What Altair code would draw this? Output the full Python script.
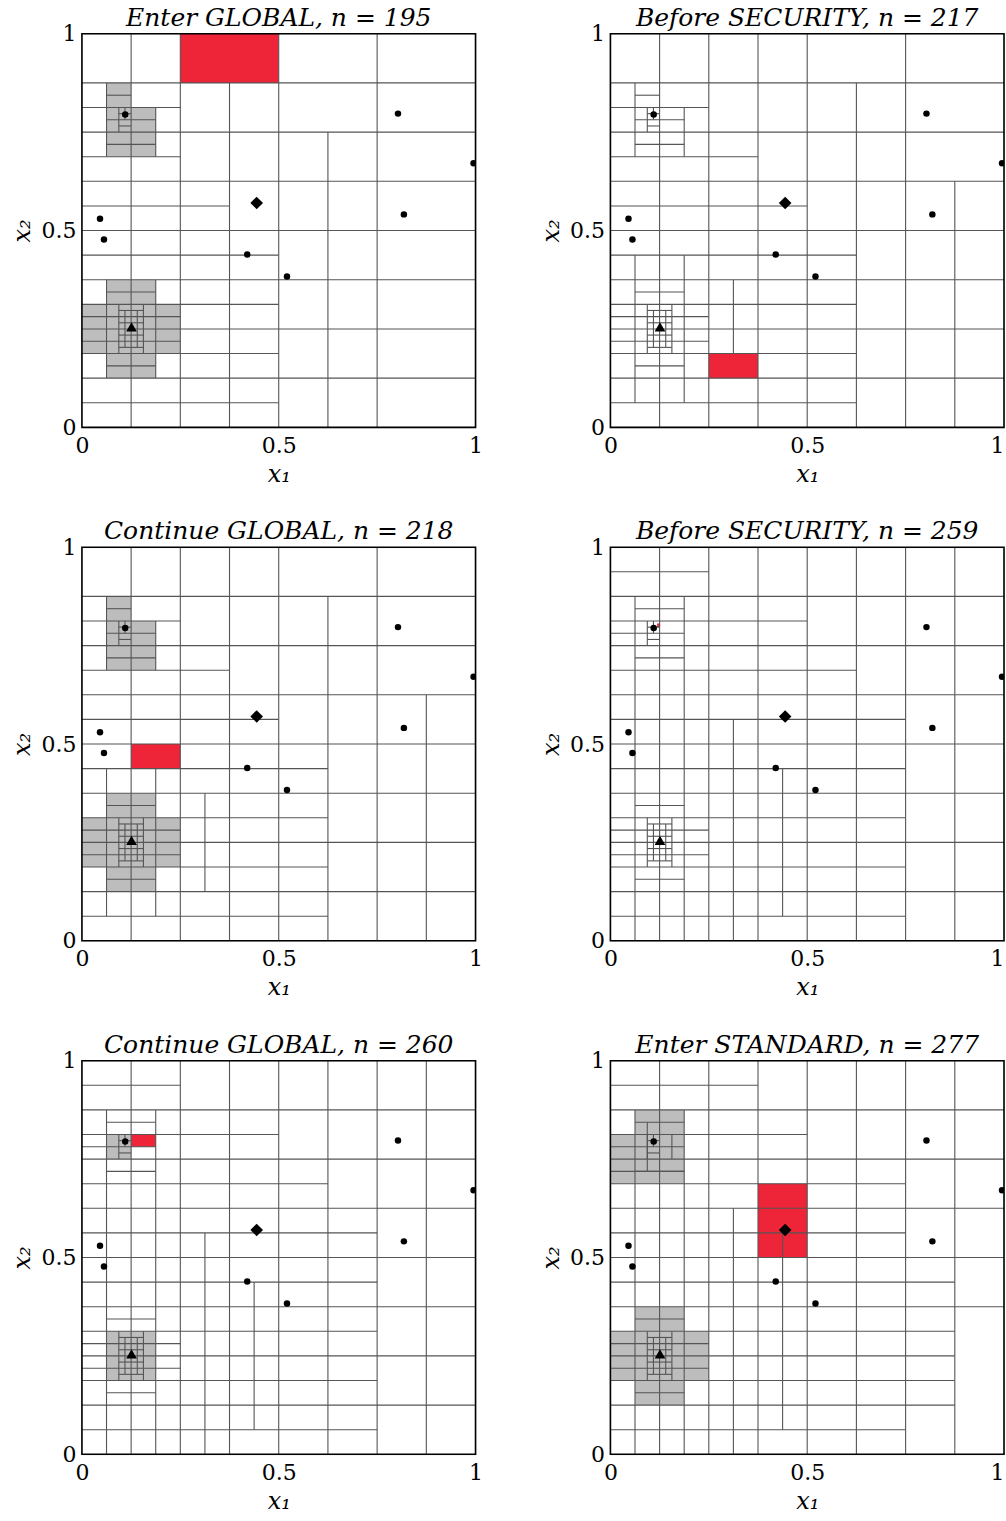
import altair as alt
import pandas as pd

# ---------------- data (coordinates in units of 1/16 of the unit square) ----------------
TITLES = [
    "Enter GLOBAL, n = 195",
    "Before SECURITY, n = 217",
    "Continue GLOBAL, n = 218",
    "Before SECURITY, n = 259",
    "Continue GLOBAL, n = 260",
    "Enter STANDARD, n = 277",
]

# outer frame of each panel (x0, y0, x1, y1)
FRAME = [(0, 0, 16, 16)]

# fine refinement around the triangle (common to all panels)
TRI_V = [(1.5, 3, 5), (2.5, 3, 5), (1.75, 3.25, 4.75), (2.25, 3.25, 4.75)]
TRI_H = [(5.5, 1, 3), (4.5, 0, 4), (3.5, 0, 4), (2.5, 1, 3),
         (4.75, 1.5, 2.5), (4.25, 1.5, 2.5), (3.75, 1.5, 2.5), (3.25, 1.5, 2.5)]
# fine refinement around the upper-left circle (common to all panels)
CIR_V = [(1.5, 12, 13), (1.75, 12.5, 13)]
CIR_H = [(12.75, 1.5, 2), (12.25, 1.5, 2), (11.5, 1, 3)]

# vertical segments (x, y0, y1) and horizontal segments (y, x0, x1) per panel
P1_V = [(2, 0, 16), (4, 0, 16), (6, 0, 14), (8, 0, 16), (10, 0, 12), (12, 0, 16),
        (1, 11, 14), (3, 11, 13), (1, 2, 6), (3, 2, 6)]
P1_H = [(14, 0, 16), (13, 0, 4), (12, 0, 16), (11, 0, 4), (10, 0, 16), (9, 0, 6),
        (8, 0, 16), (7, 0, 8), (6, 0, 16), (5, 0, 8), (4, 0, 16), (3, 0, 8),
        (2, 0, 16), (1, 0, 8), (13.5, 1, 2), (12.5, 1, 3)]

P2_V = [(2, 0, 16), (4, 0, 16), (6, 0, 16), (8, 0, 16), (10, 0, 14), (12, 0, 16),
        (14, 0, 10), (1, 11, 14), (3, 11, 13), (1, 1, 7), (3, 1, 7), (5, 3, 6)]
P2_H = [(14, 0, 16), (13, 0, 4), (12, 0, 16), (11, 0, 6), (10, 0, 16), (9, 0, 8),
        (8, 0, 16), (7, 0, 10), (6, 0, 16), (5, 0, 10), (4, 0, 16), (3, 0, 10),
        (2, 0, 16), (1, 0, 10), (13.5, 1, 2), (12.5, 1, 3)]

P3_V = [(2, 0, 16), (4, 0, 16), (6, 0, 16), (8, 0, 16), (10, 0, 14), (12, 0, 16),
        (14, 0, 10), (1, 11, 14), (3, 11, 13), (1, 1, 7), (3, 1, 7), (5, 2, 6)]
P3_H = [(14, 0, 16), (13, 0, 4), (12, 0, 16), (11, 0, 6), (10, 0, 16), (9, 0, 8),
        (8, 0, 16), (7, 0, 10), (6, 0, 16), (5, 0, 10), (4, 0, 16), (3, 0, 10),
        (2, 0, 16), (1, 0, 10), (13.5, 1, 2), (12.5, 1, 3)]

P4_V = [(1, 0, 14), (2, 0, 16), (3, 0, 14), (4, 0, 16), (5, 0, 9), (6, 0, 16),
        (7, 1, 7), (8, 0, 16), (10, 0, 16), (12, 0, 16), (14, 0, 16)]
P4_H = [(15, 0, 4), (14, 0, 16), (13.5, 1, 3), (13, 0, 8), (12.5, 0, 3), (12, 0, 16),
        (11, 0, 10), (10, 0, 16), (9, 0, 12), (8, 0, 16), (7, 0, 12), (6, 0, 16),
        (5, 0, 12), (4, 0, 16), (3, 0, 12), (2, 0, 16), (1, 0, 12)]

P5_V = [(1, 0, 14), (2, 0, 16), (3, 0, 14), (4, 0, 16), (5, 0, 9), (6, 0, 16),
        (7, 1, 7), (8, 0, 16), (10, 0, 16), (12, 0, 16), (14, 0, 16)]
P5_H = [(15, 0, 4), (14, 0, 16), (13.5, 1, 3), (13, 0, 8), (12.5, 0, 3), (12, 0, 16),
        (11, 0, 10), (10, 0, 16), (9, 0, 12), (8, 0, 16), (7, 0, 12), (6, 0, 16),
        (5, 0, 12), (4, 0, 16), (3, 0, 12), (2, 0, 16), (1, 0, 12)]

P6_V = [(1, 0, 14), (2, 0, 16), (3, 0, 14), (4, 0, 16), (5, 0, 10), (6, 0, 16),
        (7, 1, 9), (8, 0, 16), (10, 0, 16), (12, 0, 16), (14, 0, 16),
        (1.5, 11.5, 13.5), (2.5, 12, 13)]
P6_H = [(15, 0, 6), (14, 0, 16), (13.5, 1, 3), (13, 0, 8), (12.5, 0, 3), (12, 0, 16),
        (11.5, 0, 3), (11, 0, 12), (10, 0, 16), (9, 0, 12), (8, 0, 16), (7, 0, 14),
        (6, 0, 16), (5, 0, 14), (4, 0, 14), (3, 0, 14), (2, 0, 14), (1, 0, 12)]

# shaded cells (x0, y0, x1, y1)
P1_GRAY = [(1, 13, 2, 14), (1, 11, 3, 13), (1, 5, 3, 6), (0, 3, 4, 5), (1, 2, 3, 3)]
P2_GRAY = []
P3_GRAY = [(1, 13, 2, 14), (1, 11, 3, 13), (1, 5, 3, 6), (0, 3, 4, 5), (1, 2, 3, 3)]
P4_GRAY = []
P5_GRAY = [(1, 12, 2, 13), (1, 3, 3, 5)]
P6_GRAY = [(1, 13, 3, 14), (0, 11, 3, 13), (1, 5, 3, 6), (0, 3, 4, 5), (1, 2, 3, 3)]

P1_RED = [(4, 14, 8, 16)]
P2_RED = [(4, 2, 6, 3)]
P3_RED = [(2, 7, 4, 8)]
P4_RED = [(1.9, 12.75, 2.02, 12.9)]
P5_RED = [(2, 12.5, 3, 13)]
P6_RED = [(6, 8, 8, 11)]

# sample points (unit-square coordinates)
CIRCLES_X = [0.110, 0.803, 0.995, 0.046, 0.056, 0.818, 0.420, 0.521]
CIRCLES_Y = [0.795, 0.797, 0.671, 0.530, 0.477, 0.541, 0.439, 0.383]
DIAMOND = (0.444, 0.570)
TRIANGLE = (0.126, 0.255)

PANELS = [
    (P1_V, P1_H, P1_GRAY, P1_RED),
    (P2_V, P2_H, P2_GRAY, P2_RED),
    (P3_V, P3_H, P3_GRAY, P3_RED),
    (P4_V, P4_H, P4_GRAY, P4_RED),
    (P5_V, P5_H, P5_GRAY, P5_RED),
    (P6_V, P6_H, P6_GRAY, P6_RED),
]

# ---------------- styling ----------------
FONT = "DejaVu Serif"
LINE = "#555555"
GRAY = "#bdbdbd"
RED = "#ee2438"
U = 16.0

SC = alt.Scale(domain=[0, 1], nice=False, zero=False)


def x_axis(right):
    kw = dict(values=[0, 0.5, 1], format="~g", title="x₁", ticks=False, domain=False,
              grid=False, labelFont=FONT, labelFontSize=22, labelColor="black",
              labelFlush=False, labelPadding=8, titleFont=FONT, titleFontSize=24,
              titleFontWeight="normal", titleFontStyle="italic", titleColor="black",
              titlePadding=6)
    if right:
        kw["labelAlign"] = alt.ExprRef(expr="datum.value == 1 ? 'right' : 'center'")
    return alt.Axis(**kw)


def y_axis():
    return alt.Axis(values=[0, 0.5, 1], format="~g", title="x₂", ticks=False, domain=False,
                    grid=False, labelFont=FONT, labelFontSize=22, labelColor="black",
                    labelFlush=False, labelPadding=6, titleFont=FONT, titleFontSize=24,
                    titleFontWeight="normal", titleFontStyle="italic", titleColor="black",
                    titlePadding=6)


def panel(i):
    vs, hs, grays, reds = PANELS[i]
    right = (i % 2 == 1)
    xa = x_axis(right)
    ya = y_axis()
    vs_all = vs + TRI_V + CIR_V
    hs_all = hs + TRI_H + CIR_H

    cells = [dict(x0=a / U, y0=b / U, x1=c / U, y1=d / U, fill=GRAY) for a, b, c, d in grays]
    cells += [dict(x0=a / U, y0=b / U, x1=c / U, y1=d / U, fill=RED) for a, b, c, d in reds]
    cells.append(dict(x0=0.0, y0=0.0, x1=0.0, y1=0.0, fill="white"))
    df_cells = pd.DataFrame(cells)
    df_v = pd.DataFrame([dict(x=a / U, y0=b / U, y1=c / U) for a, b, c in vs_all])
    df_h = pd.DataFrame([dict(y=a / U, x0=b / U, x1=c / U) for a, b, c in hs_all])
    df_c = pd.DataFrame(dict(x=CIRCLES_X, y=CIRCLES_Y))
    df_d = pd.DataFrame(dict(x=[DIAMOND[0]], y=[DIAMOND[1]]))
    df_t = pd.DataFrame(dict(x=[TRIANGLE[0]], y=[TRIANGLE[1]]))
    df_f = pd.DataFrame([dict(x0=a / U, y0=b / U, x1=c / U, y1=d / U) for a, b, c, d in FRAME])

    rects = alt.Chart(df_cells).mark_rect(strokeWidth=0).encode(
        x=alt.X("x0:Q", scale=SC, axis=xa),
        x2="x1:Q",
        y=alt.Y("y0:Q", scale=SC, axis=ya),
        y2="y1:Q",
        color=alt.Color("fill:N", scale=None),
    )
    vrules = alt.Chart(df_v).mark_rule(color=LINE, strokeWidth=1.1).encode(
        x=alt.X("x:Q", scale=SC, axis=xa),
        y=alt.Y("y0:Q", scale=SC, axis=ya),
        y2="y1:Q",
    )
    hrules = alt.Chart(df_h).mark_rule(color=LINE, strokeWidth=1.1).encode(
        y=alt.Y("y:Q", scale=SC, axis=ya),
        x=alt.X("x0:Q", scale=SC, axis=xa),
        x2="x1:Q",
    )
    frame = alt.Chart(df_f).mark_rect(fillOpacity=0, fill="white", stroke="black",
                                      strokeWidth=1.6).encode(
        x=alt.X("x0:Q", scale=SC, axis=xa),
        x2="x1:Q",
        y=alt.Y("y0:Q", scale=SC, axis=ya),
        y2="y1:Q",
    )
    circ = alt.Chart(df_c).mark_point(shape="circle", filled=True, color="black",
                                       size=42, opacity=1, clip=True).encode(
        x=alt.X("x:Q", scale=SC, axis=xa), y=alt.Y("y:Q", scale=SC, axis=ya))
    diam = alt.Chart(df_d).mark_point(shape="diamond", filled=True, color="black",
                                       size=160, opacity=1).encode(
        x=alt.X("x:Q", scale=SC, axis=xa), y=alt.Y("y:Q", scale=SC, axis=ya))
    tri = alt.Chart(df_t).mark_point(shape="triangle-up", filled=True, color="black",
                                      size=115, opacity=1).encode(
        x=alt.X("x:Q", scale=SC, axis=xa), y=alt.Y("y:Q", scale=SC, axis=ya))

    return alt.layer(rects, vrules, hrules, frame, circ, diam, tri).properties(
        width=394, height=394,
        title=alt.TitleParams(TITLES[i], font=FONT, fontSize=25, fontStyle="italic",
                              fontWeight="normal", color="black", offset=1, dy=9),
    )


chart = alt.concat(*[panel(i) for i in range(6)], columns=2,
                   spacing={"row": 120, "column": 135}, bounds="flush").properties(
    padding={"left": 10, "top": 4, "right": 0, "bottom": 4}
).configure_view(stroke=None).configure(background="white")

chart.save("out.html", embed_options={"renderer": "svg", "actions": False})
